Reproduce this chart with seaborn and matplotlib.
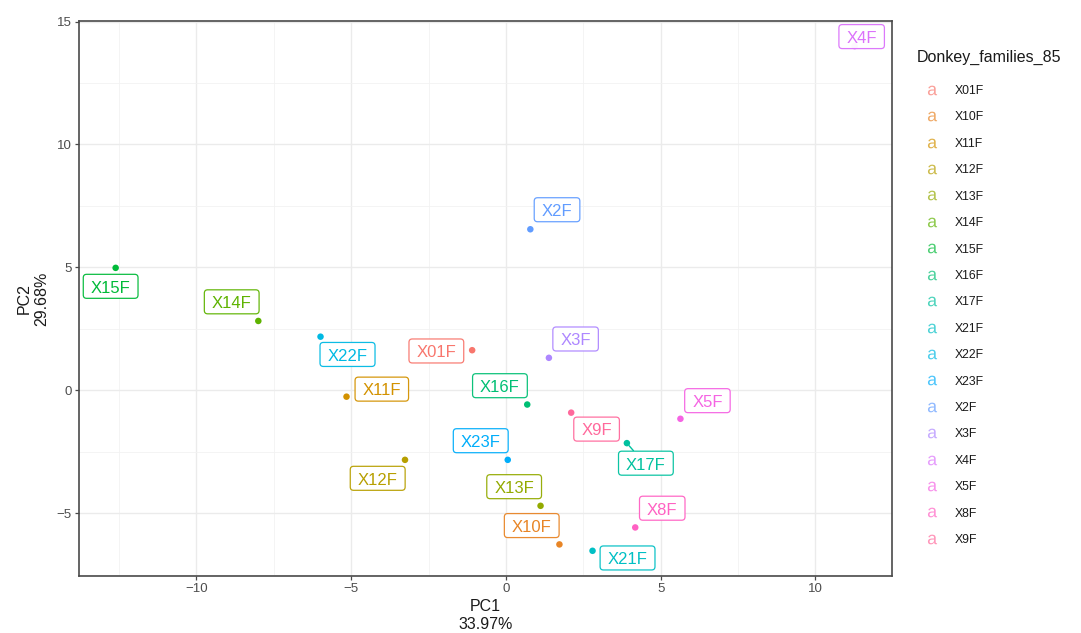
import numpy as np
import pandas as pd
import matplotlib
matplotlib.use("Agg")
import matplotlib.pyplot as plt
import seaborn as sns
from matplotlib.lines import Line2D
from matplotlib.patches import BoxStyle
from matplotlib.ticker import MultipleLocator, FuncFormatter

# PCA scores per donkey family
families = ["X01F", "X10F", "X11F", "X12F", "X13F", "X14F", "X15F", "X16F", "X17F",
            "X21F", "X22F", "X23F", "X2F", "X3F", "X4F", "X5F", "X8F", "X9F"]
pc1 = [-1.09, 1.73, -5.15, -3.26, 1.12, -8.00, -12.61, 0.69, 3.91,
       2.80, -5.99, 0.06, 0.79, 1.39, 11.27, 5.64, 4.18, 2.11]
pc2 = [1.63, -6.27, -0.26, -2.83, -4.70, 2.82, 4.98, -0.58, -2.15,
       -6.53, 2.18, -2.83, 6.55, 1.32, 14.00, -1.16, -5.58, -0.91]
pc1_var = "33.97%"
pc2_var = "29.68%"
legend_title = "Donkey_families_85"

# Repelled label placement (screen pixels: right, down) of each label centre
label_shift_px = {
    "X01F": (-35.8, 1.3), "X10F": (-27.7, -18.3), "X11F": (35.3, -7.0),
    "X12F": (-27.3, 19.0), "X13F": (-26.4, -18.6), "X14F": (-26.6, -18.6),
    "X15F": (-5.0, 19.0), "X16F": (-27.3, -18.3), "X17F": (19.0, 20.6),
    "X21F": (35.0, 7.7), "X22F": (27.0, 18.3), "X23F": (-27.0, -18.6),
    "X2F": (26.7, -19.0), "X3F": (26.7, -18.3), "X4F": (7.0, -9.0),
    "X5F": (27.0, -17.6), "X8F": (27.0, -18.7), "X9F": (25.4, 17.0),
}
# Labels pushed far enough from their point to get a leader segment
leader_labels = {"X17F"}


def hue_pal(n, c=100.0, l=65.0, h_start=15.0):
    """ggplot2-style evenly spaced HCL hues converted to sRGB."""
    hues = np.linspace(h_start, h_start + 360, n + 1)[:-1] % 360
    Xn, Yn, Zn = 95.047, 100.0, 108.883
    un = 4 * Xn / (Xn + 15 * Yn + 3 * Zn)
    vn = 9 * Yn / (Xn + 15 * Yn + 3 * Zn)
    m = np.array([[3.2404542, -1.5371385, -0.4985314],
                  [-0.9692660, 1.8760108, 0.0415560],
                  [0.0556434, -0.2040259, 1.0572252]])
    out = []
    for h in hues:
        u = c * np.cos(np.radians(h))
        v = c * np.sin(np.radians(h))
        Y = Yn * ((l + 16) / 116) ** 3
        up = u / (13 * l) + un
        vp = v / (13 * l) + vn
        X = Y * 9 * up / (4 * vp)
        Z = Y * (12 - 3 * up - 20 * vp) / (4 * vp)
        rgb = m @ (np.array([X, Y, Z]) / 100.0)
        rgb = np.where(rgb <= 0.0031308, 12.92 * rgb,
                       1.055 * np.power(np.clip(rgb, 0, None), 1 / 2.4) - 0.055)
        out.append(tuple(np.clip(rgb, 0, 1)))
    return out


colors = hue_pal(len(families))
palette = dict(zip(families, colors))

df = pd.DataFrame({"PC1": pc1, "PC2": pc2, "family": families})

sns.set_theme(style="whitegrid")
plt.rcParams["font.family"] = ["Liberation Sans", "DejaVu Sans"]

fig = plt.figure(figsize=(10.81, 6.33), dpi=100)
ax = fig.add_axes([0.0728, 0.09, 0.752, 0.877])

sns.scatterplot(data=df, x="PC1", y="PC2", hue="family", palette=palette,
                s=22, edgecolor="none", legend=False, ax=ax, zorder=3)


def expanded(vals, frac=0.05):
    """ggplot-style 5% expansion of the data range."""
    lo, hi = min(vals), max(vals)
    pad = (hi - lo) * frac
    return lo - pad, hi + pad


ax.set_xlim(*expanded(pc1))
ax.set_ylim(*expanded(pc2))

# theme_bw look
ax.set_facecolor("white")
ax.xaxis.set_major_locator(MultipleLocator(5))
ax.yaxis.set_major_locator(MultipleLocator(5))
ax.xaxis.set_minor_locator(MultipleLocator(2.5))
ax.yaxis.set_minor_locator(MultipleLocator(2.5))
ax.grid(which="major", color="#EBEBEB", linewidth=1.0)
ax.grid(which="minor", color="#F2F2F2", linewidth=0.6)
ax.set_axisbelow(True)
for sp in ax.spines.values():
    sp.set_color("#4a4a4a")
    sp.set_linewidth(1.2)
ax.tick_params(which="major", length=3, width=0.9, color="#4a4a4a",
               labelsize=9.5, labelcolor="#4D4D4D", pad=2, left=True, bottom=True)
ax.tick_params(which="minor", length=0)
minus_fmt = FuncFormatter(lambda v, p: f"{v:g}".replace("-", "\u2212"))
ax.xaxis.set_major_formatter(minus_fmt)
ax.yaxis.set_major_formatter(minus_fmt)

ax.set_xlabel(f"PC1\n{pc1_var}", fontsize=11.5, color="#1a1a1a", labelpad=3,
              linespacing=1.25)
ax.set_ylabel(f"PC2\n{pc2_var}", fontsize=11.5, color="#1a1a1a", labelpad=5,
              linespacing=1.25)


def label_box(x0, y0, width, height, mutation_size):
    """Rounded box padded around the cap height of the text."""
    m = mutation_size
    padx, pady = 0.45 * m, 0.37 * m
    base = y0 + 0.212 * m
    return BoxStyle.Round(pad=0, rounding_size=0.2)(
        x0 - padx, base - pady, width + 2 * padx, 0.70 * m + 2 * pady, m)


LABEL_FS = 12
px2pt = 72.0 / fig.dpi
for fam, x, y in zip(families, pc1, pc2):
    dx, dy = label_shift_px[fam]
    col = palette[fam]
    arrow = (dict(arrowstyle="-", color=col, lw=1.0, shrinkA=0, shrinkB=2.5)
             if fam in leader_labels else None)
    ax.annotate(
        fam, xy=(x, y),
        xytext=(dx * px2pt, -dy * px2pt - 0.35 * LABEL_FS), textcoords="offset points",
        ha="center", va="baseline", fontsize=LABEL_FS, color=col, zorder=4,
        bbox=dict(boxstyle=label_box, fc="white", ec=col, lw=0.9, alpha=0.95),
        arrowprops=arrow,
    )

# Legend with letter keys
handles = [Line2D([0], [0], linestyle="none", marker=r"$\mathregular{a}$",
                  markersize=7, markeredgewidth=0, color=palette[f], alpha=0.7)
           for f in families]
leg = fig.legend(handles, families, title=legend_title, loc="upper left",
                 bbox_to_anchor=(0.840, 0.935), frameon=False, fontsize=8.8,
                 title_fontsize=11.5, labelspacing=1.18, handletextpad=0.5,
                 handlelength=2.6, borderpad=0.2)
leg._legend_box.align = "left"
leg._legend_box.sep = 14.5
for t in leg.get_texts():
    t.set_color("#1a1a1a")
leg.get_title().set_color("#1a1a1a")

fig.savefig("out.png", dpi=100)
